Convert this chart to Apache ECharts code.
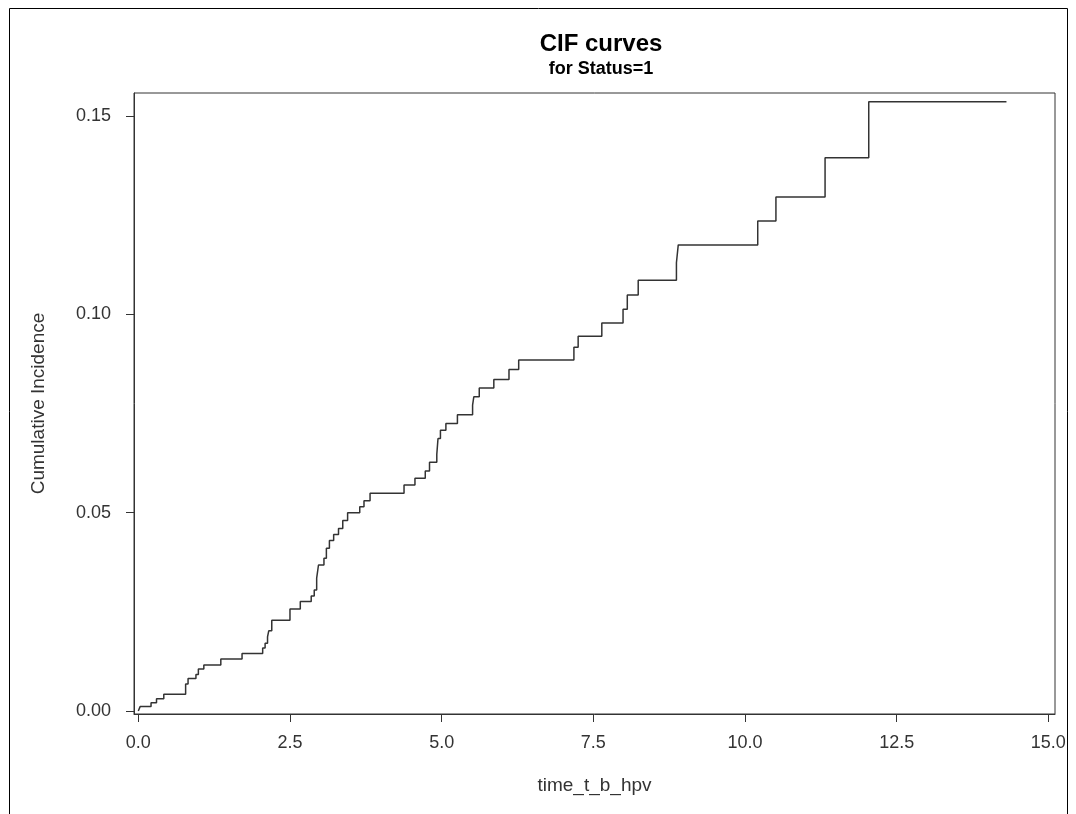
<!DOCTYPE html>
<html>
<head>
<meta charset="utf-8">
<script src="https://cdn.jsdelivr.net/npm/echarts@6/dist/echarts.min.js"></script>
<style>
html,body{margin:0;padding:0;background:#fff;}
#chart{width:1076px;height:814px;}
</style>
</head>
<body>
<div id="chart"></div>
<script>
// Event times (time_t_b_hpv) and cumulative incidence after each step
var times = [0.00, 0.03, 0.21, 0.30, 0.42, 0.78, 0.82, 0.95, 0.99, 1.08, 1.36, 1.71,
  2.05, 2.09, 2.13, 2.15, 2.20, 2.50, 2.67, 2.85, 2.90, 2.94, 2.97, 3.06, 3.10, 3.15,
  3.22, 3.30, 3.37, 3.45, 3.65, 3.72, 3.82, 4.38, 4.56, 4.73, 4.80, 4.92, 4.94, 4.98,
  5.07, 5.26, 5.51, 5.53, 5.62, 5.86, 6.11, 6.27, 7.18, 7.25, 7.64, 7.99, 8.06, 8.24,
  8.87, 8.90, 10.21, 10.51, 11.32, 12.04, 14.31];
var cif = [0.0000, 0.0011, 0.0021, 0.0031, 0.0042, 0.0068, 0.0082, 0.0092, 0.0106, 0.0116, 0.0131, 0.0145,
  0.0159, 0.0171, 0.0187, 0.0202, 0.0229, 0.0257, 0.0276, 0.0290, 0.0305, 0.0335, 0.0368, 0.0385, 0.0410, 0.0430,
  0.0445, 0.0460, 0.0480, 0.0500, 0.0515, 0.0530, 0.0549, 0.0570, 0.0587, 0.0605, 0.0627, 0.0647, 0.0687, 0.0708,
  0.0725, 0.0747, 0.0771, 0.0792, 0.0814, 0.0836, 0.0861, 0.0885, 0.0917, 0.0945, 0.0978, 0.1013, 0.1049, 0.1086,
  0.1130, 0.1175, 0.1235, 0.1296, 0.1395, 0.1536, 0.1536];
var xTicks = [0, 2.5, 5, 7.5, 10, 12.5, 15];
var yTicks = [0, 0.05, 0.10, 0.15];
var titleText = 'CIF curves';
var subTitleText = 'for Status=1';
var xName = 'time_t_b_hpv';
var yName = 'Cumulative Incidence';

var pts = times.map(function (t, i) { return [t, cif[i]]; });
var font = 'Liberation Sans, Arial, sans-serif';
var chart = echarts.init(document.getElementById('chart'), null, {renderer: 'canvas'});
chart.setOption({
  animation: false,
  backgroundColor: '#fff',
  graphic: [{
    type: 'rect', silent: true,
    shape: {x: 9.5, y: 8.5, width: 1058, height: 900},
    style: {fill: 'none', stroke: '#000', lineWidth: 1}
  }],
  title: [{
    text: titleText, left: 596, top: 27, textAlign: 'center',
    textStyle: {fontFamily: font, fontSize: 24, fontWeight: 'bold', color: '#000'}
  }, {
    text: subTitleText, left: 596, top: 55, textAlign: 'center',
    textStyle: {fontFamily: font, fontSize: 18, fontWeight: 'bold', color: '#000'}
  }],
  grid: {left: 134, top: 93, width: 921, height: 621, show: true, borderColor: '#333', borderWidth: 1, backgroundColor: 'transparent'},
  xAxis: {
    type: 'value', min: -0.071, max: 15.11,
    name: xName, nameLocation: 'middle', nameGap: 62,
    nameTextStyle: {fontFamily: font, fontSize: 19, color: '#333'},
    axisLine: {show: true, onZero: false, lineStyle: {color: '#333', width: 1}},
    axisTick: {show: true, inside: false, length: 8, customValues: xTicks, lineStyle: {color: '#333'}},
    axisLabel: {customValues: xTicks, margin: 20, fontFamily: font, fontSize: 18, color: '#333',
      formatter: function (v) { return v.toFixed(1); }},
    splitLine: {show: false}
  },
  yAxis: {
    type: 'value', min: -0.00076, max: 0.1558,
    name: yName, nameLocation: 'middle', nameGap: 86,
    nameTextStyle: {fontFamily: font, fontSize: 19, color: '#333'},
    axisLine: {show: true, onZero: false, lineStyle: {color: '#333', width: 1}},
    axisTick: {show: true, inside: false, length: 8, customValues: yTicks, lineStyle: {color: '#333'}},
    axisLabel: {customValues: yTicks, margin: 23, fontFamily: font, fontSize: 18, color: '#333',
      formatter: function (v) { return v.toFixed(2); }},
    splitLine: {show: false}
  },
  series: [{
    type: 'line', step: 'end', data: pts, showSymbol: false, symbol: 'none',
    lineStyle: {color: '#333', width: 1.5}
  }]
});
</script>
</body>
</html>
